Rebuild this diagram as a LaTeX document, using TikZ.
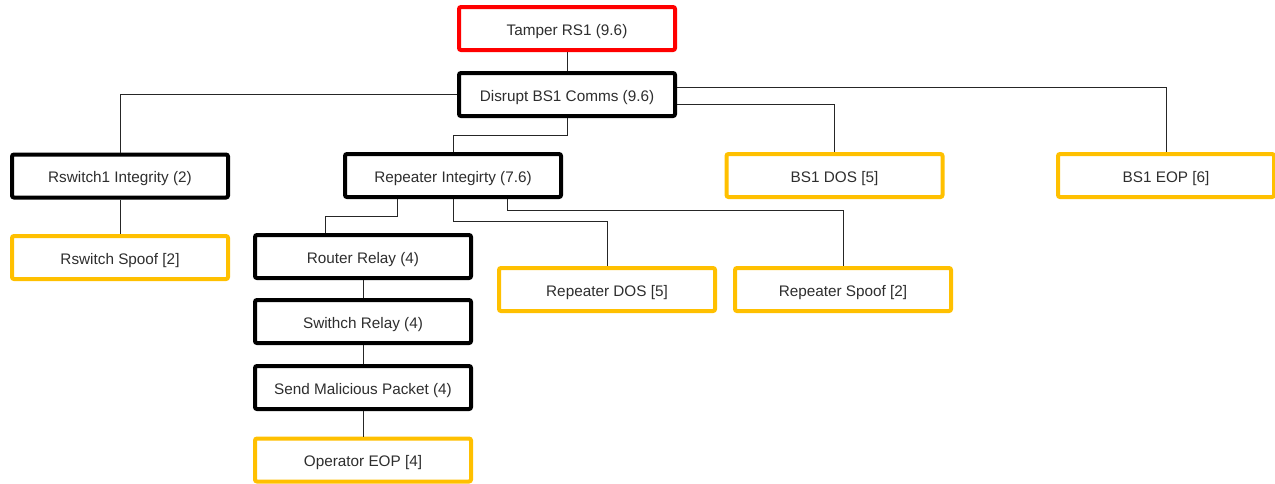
\documentclass[tikz,border=0pt]{standalone}
\usepackage{fontspec}
\setmainfont{Liberation Sans}
\definecolor{orangeb}{HTML}{FFC000}
\definecolor{redb}{HTML}{FF0000}
\definecolor{txt}{HTML}{2E2E2E}
\begin{document}
\begin{tikzpicture}[x=1pt,y=-1pt,
  box/.style={rectangle, minimum width=216pt, minimum height=43pt, inner sep=0pt,
    text height=15pt, text depth=2pt,
    line width=4pt, rounded corners=2pt, text=txt, font=\fontsize{15.3}{18}\selectfont, fill=white},
  blk/.style={box, draw=black},
  org/.style={box, draw=orangeb},
  rd/.style={box, draw=redb},
  conn/.style={line width=1pt, draw=black!85}]
\useasboundingbox (0,0) rectangle (1275,483);
\node[rd]  (T)   at (567,28.5)  {Tamper RS1 (9.6)};
\node[blk] (D)   at (567,94.5)  {Disrupt BS1 Comms (9.6)};
\node[blk] (R1)  at (120,176)   {Rswitch1 Integrity (2)};
\node[blk] (RI)  at (453,175.5) {Repeater Integirty (7.6)};
\node[org] (DOS) at (834.5,175.5) {BS1 DOS [5]};
\node[org] (EOP) at (1166,175.5) {BS1 EOP [6]};
\node[org] (RS)  at (120,257.5) {Rswitch Spoof [2]};
\node[blk] (RR)  at (363,256.5) {Router Relay (4)};
\node[org] (RD)  at (607,289.5) {Repeater DOS [5]};
\node[org] (RSp) at (843,289.5) {Repeater Spoof [2]};
\node[blk] (SR)  at (363,321.5) {Swithch Relay (4)};
\node[blk] (SM)  at (363,387.5) {Send Malicious Packet (4)};
\node[org] (OE)  at (363,460)   {Operator EOP [4]};
\draw[conn] (T.south) -- (D.north);
\draw[conn] (D.west) -| (R1.north);
\draw[conn] (D.south) -- ++(0,17) -| (RI.north);
\draw[conn] (D.east |- 0,104) -| (DOS.north);
\draw[conn] (D.east |- 0,87) -| (EOP.north);
\draw[conn] (R1.south) -- (RS.north);
\draw[conn] (RI.south -| 397,0) |- (325,216) -- (RR.north -| 325,0);
\draw[conn] (RI.south) -- ++(0,22) -| (RD.north);
\draw[conn] (RI.south -| 507,0) -- ++(0,11) -| (RSp.north);
\draw[conn] (RR.south) -- (SR.north);
\draw[conn] (SR.south) -- (SM.north);
\draw[conn] (SM.south) -- (OE.north);
\end{tikzpicture}
\end{document}
